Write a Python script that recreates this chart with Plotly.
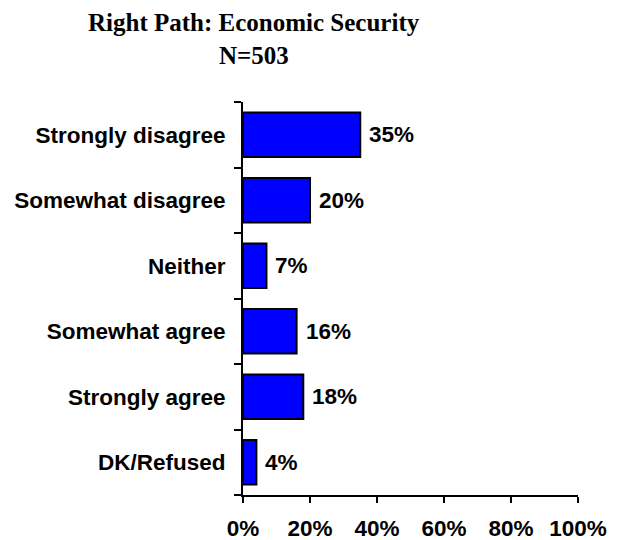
import plotly.graph_objects as go

categories = ["Strongly disagree", "Somewhat disagree", "Neither",
              "Somewhat agree", "Strongly agree", "DK/Refused"]
values = [35, 20, 7, 16, 18, 4]
value_labels = ["35%", "20%", "7%", "16%", "18%", "4%"]
x_tickvals = [0, 20, 40, 60, 80, 100]
x_ticktext = ["0%", "20%", "40%", "60%", "80%", "100%"]
title_lines = ["Right Path: Economic Security", "N=503"]

lab_font = dict(family="Liberation Sans, Arial, sans-serif", size=22.5, color="black")
title_font = dict(family="Liberation Serif, Times New Roman, serif", size=25, color="black")

# the page body has an 8px margin, so the figure is drawn 8px in from the corner
OFF = 8
W, H = 617 - OFF, 540 - OFF
L, T = 243 - OFF, 102 - OFF
R = W - L - 335
B = H - T - 393
plot_h = H - T - B
plot_w = W - L - R

fig = go.Figure()
fig.add_trace(go.Bar(
    y=categories, x=values, orientation="h",
    marker=dict(color="#0000FF", line=dict(color="black", width=2)),
    width=0.68, hoverinfo="skip",
))

for c, v, t in zip(categories, values, value_labels):
    fig.add_annotation(x=v, y=c, text="<b>%s</b>" % t, showarrow=False,
                       xanchor="left", yanchor="middle", xshift=7,
                       font=lab_font)

# title lines (centre pixel rows measured from the top of the page)
for line, py in zip(title_lines, [22.5 - OFF, 56.0 - OFF]):
    fig.add_annotation(xref="paper", yref="paper",
                       x=(253.5 - OFF - L) / plot_w, y=(H - B - py) / plot_h,
                       text="<b>%s</b>" % line, showarrow=False,
                       xanchor="center", yanchor="middle", font=title_font)

fig.update_layout(
    width=W, height=H,
    margin=dict(l=L, r=R, t=T, b=B),
    paper_bgcolor="white", plot_bgcolor="white",
    showlegend=False,
    xaxis=dict(
        range=[0, 100], tickvals=x_tickvals,
        ticktext=["<b>%s</b>" % t for t in x_ticktext],
        showgrid=False, zeroline=False, automargin=False,
        showline=True, linecolor="black", linewidth=2,
        ticks="outside", ticklen=6, tickwidth=2, tickcolor="black",
        tickfont=lab_font, ticklabelstandoff=6,
    ),
    yaxis=dict(
        categoryorder="array", categoryarray=categories,
        autorange="reversed",
        tickvals=categories,
        ticktext=["<b>%s</b>" % c for c in categories],
        showgrid=False, zeroline=False, automargin=False,
        showline=True, linecolor="black", linewidth=2,
        ticks="outside", tickson="boundaries", ticklen=7, tickwidth=2, tickcolor="black",
        tickfont=lab_font, ticklabelstandoff=11,
    ),
)

fig.write_html("out.html")
